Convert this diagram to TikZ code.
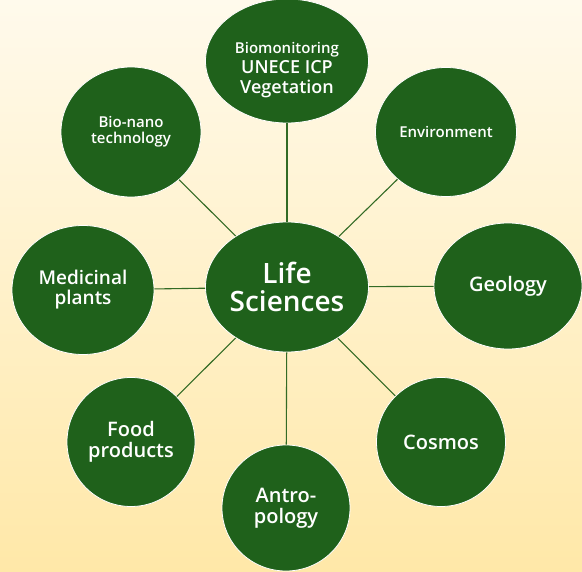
\documentclass[tikz,border=0pt]{standalone}
\usepackage{fontspec}
\setmainfont{Open Sans}[BoldFont={Open Sans Semibold}]
\usetikzlibrary{shapes.geometric}
\definecolor{leafgreen}{HTML}{1F611B}
\definecolor{linkgreen}{HTML}{336B25}
\definecolor{creamtop}{HTML}{FFFAEC}
\definecolor{creambottom}{HTML}{FFE8A8}

\begin{document}
\begin{tikzpicture}[
    x=1pt, y=-1pt,
    topic/.style={
      ellipse,
      draw=white,
      line width=0.8pt,
      fill=leafgreen,
      text=white,
      align=center,
      inner sep=0pt
    },
    link/.style={draw=linkgreen, line width=1.1pt}
  ]
    \shade[top color=creamtop, bottom color=creambottom] (0,0) rectangle (582,572);
    \useasboundingbox (0,0) rectangle (582,572);

    \node[topic, minimum width=163pt, minimum height=130pt, font=\bfseries\fontsize{28}{28}\selectfont] (life) at (287,287) {Life\\Sciences};

    \node[topic, minimum width=163pt, minimum height=124pt, font=\bfseries\fontsize{18}{20}\selectfont] (biomon) at (287,61)
      {\rule{0pt}{30pt}{\fontsize{15}{26}\selectfont Biomonitoring}\\UNECE ICP\\Vegetation};
    \node[topic, minimum width=141pt, minimum height=129pt, font=\bfseries\fontsize{15}{16}\selectfont] (env) at (446,132) {Environment};
    \node[topic, minimum width=148pt, minimum height=126pt, font=\bfseries\fontsize{20}{20}\selectfont] (geo) at (508,286) {Geology};
    \node[topic, minimum width=129pt, minimum height=129pt, font=\bfseries\fontsize{20}{20}\selectfont] (cosmos) at (441,442) {Cosmos};
    \node[topic, minimum width=128pt, minimum height=126pt, font=\bfseries\fontsize{20}{21}\selectfont] (antro) at (286,508) {Antro-\\pology};
    \node[topic, minimum width=128pt, minimum height=129pt, font=\bfseries\fontsize{20}{21}\selectfont] (food) at (131,442) {Food\\products};
    \node[topic, minimum width=142pt, minimum height=129pt, font=\bfseries\fontsize{19}{20}\selectfont] (medic) at (83,290) {Medicinal\\plants};
    \node[topic, minimum width=140pt, minimum height=130pt, font=\bfseries\fontsize{15}{16}\selectfont] (nano) at (131,132) {Bio-nano\\technology};

    \draw[link] (life) -- (biomon);
    \draw[link] (life) -- (env);
    \draw[link] (life) -- (geo);
    \draw[link] (life) -- (cosmos);
    \draw[link] (life) -- (antro);
    \draw[link] (life) -- (food);
    \draw[link] (life) -- (medic);
    \draw[link] (life) -- (nano);
  \end{tikzpicture}
\end{document}
